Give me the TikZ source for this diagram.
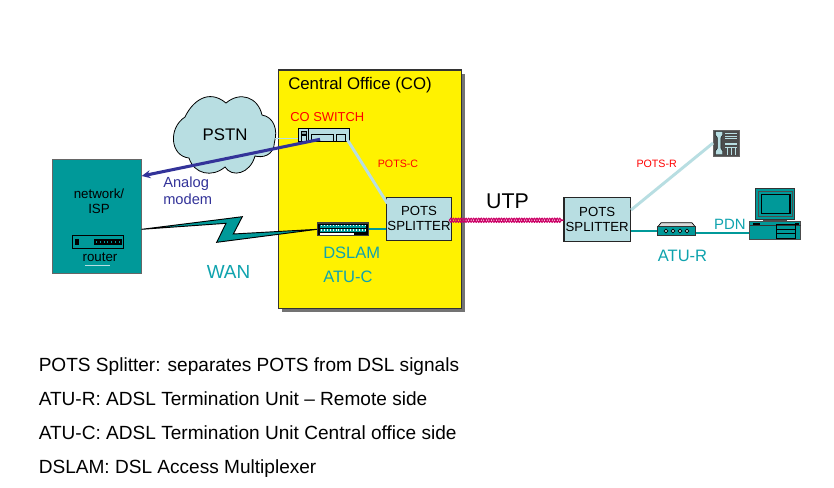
\documentclass[tikz,border=0pt]{standalone}
\usepackage{fontspec}
\setmainfont{Liberation Sans}
\usetikzlibrary{decorations.pathmorphing,arrows.meta}
\definecolor{tealc}{HTML}{009999}
\definecolor{paleb}{HTML}{B8DEE2}
\definecolor{navyb}{HTML}{333399}
\definecolor{twist}{HTML}{CC0066}
\definecolor{wanc}{HTML}{0FA3AE}
\newcommand{\fsz}[1]{\fontsize{#1}{#1}\selectfont}
\newcommand{\fsl}[2]{\fontsize{#1}{#2}\selectfont}
\tikzset{
  x=0.75pt,y=-0.75pt,
  lab/.style={inner sep=0pt,anchor=west,text=black},
  bottomlab/.style={inner sep=0pt,anchor=base west,text=black,font=\fsz{14.3}},
  teallab/.style={inner sep=0pt,text=wanc,font=\fsz{12.4}},
  redlab/.style={inner sep=0pt,text=red,font=\fsz{8}},
  splitbox/.style={draw=black!85,line width=.9pt,fill=paleb,inner sep=0pt,align=center,font=\fsl{9.9}{11.4}},
  pots/.style={paleb,line width=2.2pt},
  tealine/.style={tealc,line width=1.6pt},
  devline/.style={draw=black,line width=.6pt},
  strand/.style={twist,line width=.85pt,decorate},
}
\begin{document}
\begin{tikzpicture}
\useasboundingbox (0,0) rectangle (834,487);
\fill[white] (0,0) rectangle (834,487);
% Central office
\fill[black!55] (282,73.5) rectangle (465,311.5);
\node[draw=black!80,line width=1pt,fill=yellow,minimum width=137.5pt,minimum height=178.7pt,inner sep=0pt] (co) at (370,189.2) {};
\node[lab,font=\fsz{12.6}] (cotitle) at (288,85.5) {Central Office (CO)};
% network box
\node[draw=black!60,line width=.8pt,fill=tealc,minimum width=66.5pt,minimum height=85.5pt,inner sep=0pt] (isp) at (97,216.3) {};
\node[inner sep=0pt,align=center,font=\fsl{10}{11}] (isplab) at (99,201.3) {network/\\ISP};
\node[draw=black,line width=.7pt,fill=tealc,minimum width=38.5pt,minimum height=10.2pt,inner sep=0pt] (router) at (98,241.8) {};
\fill[black] (75,239) rectangle (78.5,245);
\fill[black] (93.5,238.8) rectangle (121.5,244.6);
\foreach \i in {0,...,6} \fill[tealc] (96+\i*3.8,240.6) rectangle (97+\i*3.8,243);
\node[inner sep=0pt,font=\fsz{10}] (routerlab) at (100,257.5) {router};
\draw[paleb,line width=.5pt] (85,265.5) -- (110,265.5);
% cloud
\path[draw=black,line width=.6pt,fill=paleb]
  (185,117) .. controls (192,102) and (208,88) .. (226,103)
  .. controls (240,91) and (258,97) .. (262,115)
  .. controls (274,117) and (278,130) .. (274.5,142)
  .. controls (274,156) and (262,158) .. (255,156)
  .. controls (250,174) and (232,178) .. (225,167)
  .. controls (212,178) and (194,174) .. (189,158)
  .. controls (170,156) and (168,128) .. (185,117) -- cycle;
\node[inner sep=0pt,font=\fsz{12.6}] (pstn) at (225,135) {PSTN};
\coordinate (cloudr) at (274.5,138);
% CO switch
\node[draw=black,line width=.7pt,fill=paleb,minimum width=38pt,minimum height=10pt,inner sep=0pt] (sw) at (323.7,135) {};
\draw[devline] (308.5,128.5) -- (308.5,141.5);
\draw[devline,fill=paleb!70!black] (301.5,131) rectangle (306,134);
\draw[devline] (301.5,135) rectangle (306,141.5);
\draw[devline] (311,134) rectangle (333,141.5);
\draw[devline] (336,134) rectangle (345.5,141.5);
\node[inner sep=0pt,anchor=west,text=red,font=\fsz{9.7}] (swlab) at (290,117.5) {CO SWITCH};
% DSLAM
\node[draw=black!75,line width=1pt,fill=black,minimum width=37.8pt,minimum height=9.6pt,inner sep=0pt] (dslam) at (343,229.3) {};
\fill[tealc] (320,224.5) rectangle (366,228);
\fill[tealc] (320,229) rectangle (366,232);
\foreach \i in {0,...,15}{\fill[white] (321+\i*2.9,224.5) rectangle (321.8+\i*2.9,226);
  \fill[white] (321+\i*2.9,229) rectangle (321.8+\i*2.9,230.5);}
\fill[white] (320,233) rectangle (354,235);
\node[teallab,anchor=west] (dslamlab) at (323,252.5) {DSLAM};
\node[teallab,anchor=west] (atuc) at (323,276.5) {ATU-C};
% splitters
\node[splitbox,minimum width=48.5pt,minimum height=32.2pt] (sl) at (419,218.8) {POTS\\SPLITTER};
\node[splitbox,minimum width=49.7pt,minimum height=33pt] (sr) at (597.2,219.3) {POTS\\SPLITTER};
% connectors
\draw[line width=.6pt,paleb] (cloudr) -- (sw.west |- cloudr);
\draw[pots] (347.5,140) -- (387.3,203.3);
\draw[tealine] (dslam.east) -- (sl.west |- dslam.east);
% analog modem arrow
\coordinate (swin) at (320,139.3);
\coordinate (ispin) at (141.7,176);
\draw[navyb,line width=2.3pt,-{Stealth[length=6.5pt,width=6pt]}] (swin) -- (ispin);
\node[lab,align=left,text=navyb,font=\fsl{11}{12.8},anchor=north west] (analog) at (163,176.5) {Analog\\modem};
% WAN lightning
\path[draw=black,line width=.7pt,fill=tealc]
  (141.7,229.3) -- (242.3,216.7) -- (233.3,234) -- (dslam.west) -- (216.7,242.3) -- (226,223.3) -- cycle;
\node[teallab,font=\fsz{14.2}] (wan) at (228.5,271.5) {WAN};
% twisted pair
\coordinate (twa) at ([xshift=-2pt,yshift=-1.1pt]sl.east);
\coordinate (twb) at ([yshift=-.7pt]sr.west);
\draw[strand,decoration={snake,segment length=3.8pt,amplitude=1.5pt}] (twa) -- (twb);
\draw[strand,decoration={snake,segment length=3.8pt,amplitude=1.5pt,mirror}] (twa) -- (twb);
\node[inner sep=0pt,font=\fsz{16}] (utp) at (507.5,201) {UTP};
\node[redlab] (potsc) at (398,164) {POTS-C};
\node[redlab] (potsr) at (656.7,164) {POTS-R};
% phone
\node[draw=black!60,line width=.5pt,fill=black!70,minimum width=19.2pt,minimum height=19.5pt,inner sep=0pt] (phone) at (726.2,143) {};
\path[fill=paleb,draw=black,line width=.3pt] (715.5,131.5) -- (722.5,131.5) -- (722.5,135) -- (720.8,138) -- (720.8,148) -- (722.5,151) -- (722.5,154.5) -- (715.5,154.5) -- (715.5,151) -- (717.5,148) -- (717.5,138) -- (715.5,135) -- cycle;
\foreach \yy in {133,135.5,138}\fill[paleb] (725,\yy) rectangle (737,\yy+1.2);
\fill[paleb] (725,143) rectangle (737,144.5);
\foreach \xx in {727,731,735}\fill[paleb] (\xx,148) rectangle (\xx+1.2,155);
\fill[paleb] (725,147) rectangle (737,148);
\draw[pots] (631,210) -- (phone.west);
% ATU-R
\path[draw=black,line width=.5pt,fill=white!85!black] (658,226.5) -- (661,222.8) -- (692,222.8) -- (695,226.5) -- cycle;
\node[draw=black!80,line width=.6pt,fill=tealc,minimum width=28.8pt,minimum height=6.8pt,inner sep=0pt] (atur) at (676.2,231) {};
\foreach \xx in {664,671,678,685}\draw[black,fill=white!80!tealc,line width=.5pt] (\xx+2,231) circle[radius=1.9];
\node[teallab] (aturlab) at (682.5,256) {ATU-R};
% PC
\node[draw=black!70,line width=.7pt,fill=tealc,minimum width=38.2pt,minimum height=13pt,inner sep=0pt] (pcbase) at (775,230.5) {};
\draw[fill=tealc,draw=black!80,line width=.7pt] (755.7,188) rectangle (794.3,219.5);
\draw[draw=black!70,line width=.6pt] (758.5,191.5) rectangle (792,216.5);
\draw[fill=tealc,draw=black,line width=.9pt] (761.7,194.7) rectangle (790,213.7);
\fill[black!70] (763,219.5) rectangle (787,221.8);
\draw[black!80,line width=.6pt] (749.5,225) -- (800.5,225);
\draw[black,line width=.6pt] (776,224.5) rectangle (795,238.5) (776,229) -- (795,229) (776,233.5) -- (795,233.5);
\fill[black] (753,223) rectangle (760,225);
\fill[black] (795,223) rectangle (799,225);
\draw[tealine] (sr.east |- atur.west) -- (atur.west);
\draw[tealine] (atur.east |- 0,232.7) -- (pcbase.west |- 0,232.7);
\node[inner sep=0pt,text=wanc,font=\fsz{11.2}] (pdn) at (730,224) {PDN};
% bottom legend
\node[bottomlab] (t1) at (38.5,371) {POTS Splitter: separates POTS from DSL signals};
\node[bottomlab] (t2) at (38.5,405) {ATU-R: ADSL Termination Unit – Remote side};
\node[bottomlab] (t3) at (38.5,439) {ATU-C: ADSL Termination Unit Central office side};
\node[bottomlab] (t4) at (38.5,473) {DSLAM: DSL Access Multiplexer};
\end{tikzpicture}
\end{document}
